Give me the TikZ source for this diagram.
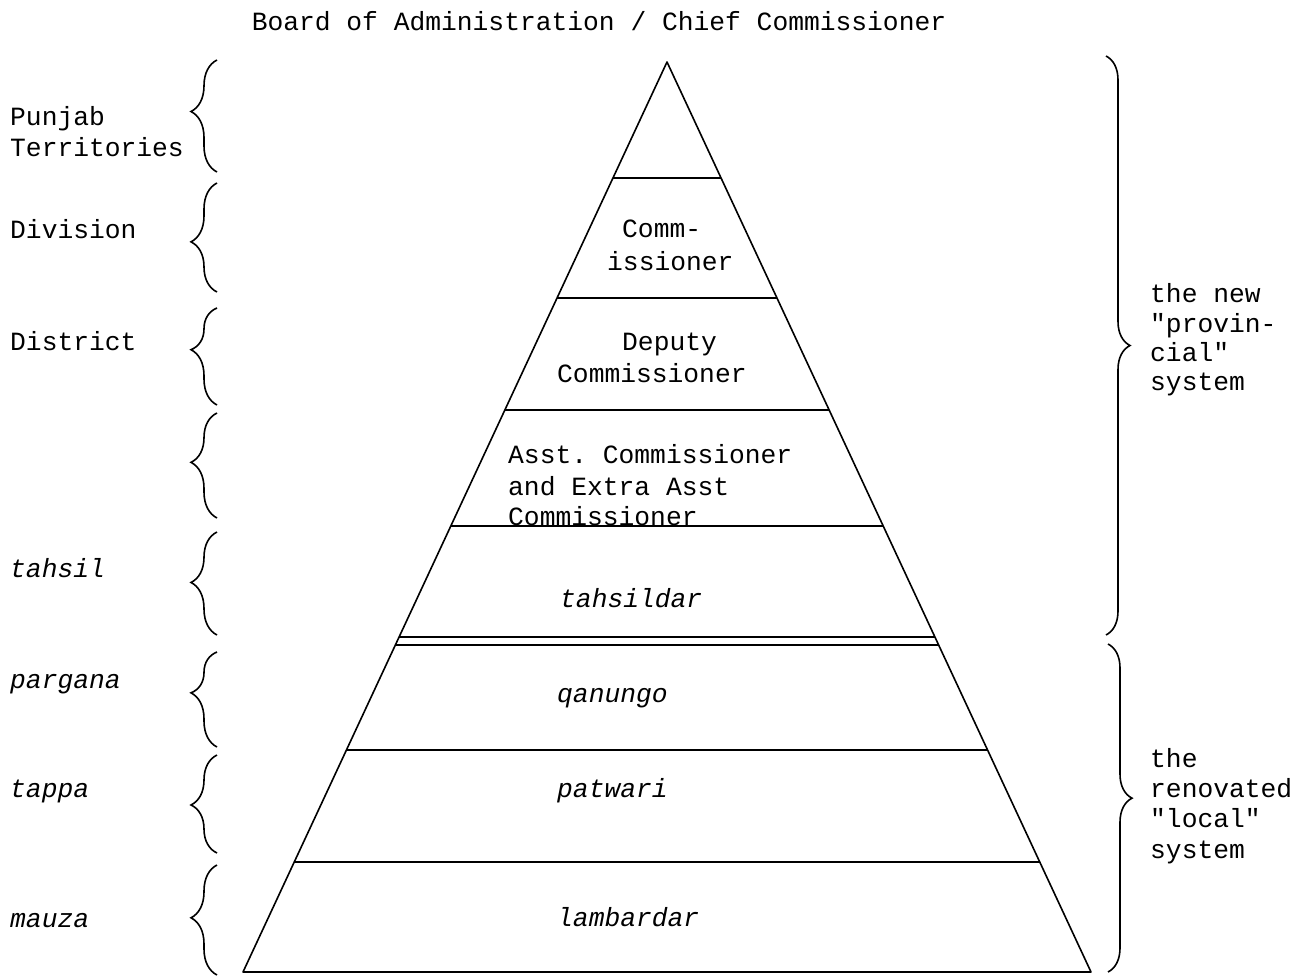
\documentclass[tikz,border=0pt]{standalone}
\usepackage{fontspec}
\setmainfont{Liberation Mono}[Ligatures=TeXOff]
\usetikzlibrary{calc,decorations.pathreplacing}
\begin{document}
\frenchspacing
\begin{tikzpicture}[x=1pt,y=-1pt,
  ln/.style={line width=1.6pt, line join=round},
  txt/.style={anchor=base west, inner sep=0pt, font=\fontsize{26.3}{32}\selectfont},
  ctxt/.style={anchor=base, inner sep=0pt, font=\fontsize{26.3}{32}\selectfont},
  itxt/.style={anchor=base west, inner sep=0pt, font=\fontsize{26.3}{32}\selectfont\itshape},
  lbr/.style={line width=1.6pt, decorate, decoration={brace, mirror, amplitude=26pt, aspect=#1}},
  rbr/.style={line width=1.6pt, decorate, decoration={brace, amplitude=24pt, aspect=#1}}]
\useasboundingbox (0,0) rectangle (1298,979);

% title
\node[ctxt] (title) at (599,31) {Board of Administration / Chief Commissioner};

% pyramid
\coordinate (apex) at (667,62);
\coordinate (bl) at (243,972);
\coordinate (br) at (1091,972);
\draw[ln] (apex) -- (bl) -- (br) -- cycle;
\foreach \t in {0.1275,0.2593,0.3824,0.5099,0.6319,0.6407,0.7560,0.8791}
  \draw[ln] ($(apex)!\t!(bl)$) -- ($(apex)!\t!(br)$);

% texts inside pyramid
\node[txt] (c1) at (622,237) {Comm-};
\node[txt] (c2) at (607,270) {issioner};
\node[txt] (d1) at (622,350) {Deputy};
\node[txt] (d2) at (557,382) {Commissioner};
\node[txt] (a1) at (508,463) {Asst. Commissioner};
\node[txt] (a2) at (508,495) {and Extra Asst};
\node[txt] (a3) at (508,525) {Commissioner};
\node[itxt] (t1) at (560,607) {tahsildar};
\node[itxt] (q1) at (557,702) {qanungo};
\node[itxt] (p1) at (557,797) {patwari};
\node[itxt] (l1) at (557,926) {lambardar};

% left labels
\node[txt] (L1a) at (10,125) {Punjab};
\node[txt] (L1b) at (10,157) {Territories};
\node[txt] (L2) at (10,238) {Division};
\node[txt] (L3) at (10,350) {District};
\node[itxt] (L5) at (10,577) {tahsil};
\node[itxt] (L6) at (10,688) {pargana};
\node[itxt] (L7) at (10,797) {tappa};
\node[itxt] (L8) at (10,927) {mauza};

% left braces
\draw[lbr=0.46] (217,60) -- (217,172);
\draw[lbr=0.54] (217,183) -- (217,292);
\draw[lbr=0.43] (217,308) -- (217,405);
\draw[lbr=0.47] (217,413) -- (217,518);
\draw[lbr=0.49] (217,532) -- (217,635);
\draw[lbr=0.43] (217,652) -- (217,747);
\draw[lbr=0.51] (217,755) -- (217,853);
\draw[lbr=0.48] (217,865) -- (217,975);

% right braces
\draw[rbr=0.50] (1106,56) -- (1106,635);
\draw[rbr=0.47] (1108,644) -- (1108,972);

% right labels
\node[txt] (R1) at (1150,302) {the new};
\node[txt] (R2) at (1150,332) {"provin-};
\node[txt] (R3) at (1150,361) {cial"};
\node[txt] (R4) at (1150,390) {system};
\node[txt] (S1) at (1150,767) {the};
\node[txt] (S2) at (1150,797) {renovated};
\node[txt] (S3) at (1150,827) {"local"};
\node[txt] (S4) at (1150,858) {system};
\end{tikzpicture}
\end{document}
